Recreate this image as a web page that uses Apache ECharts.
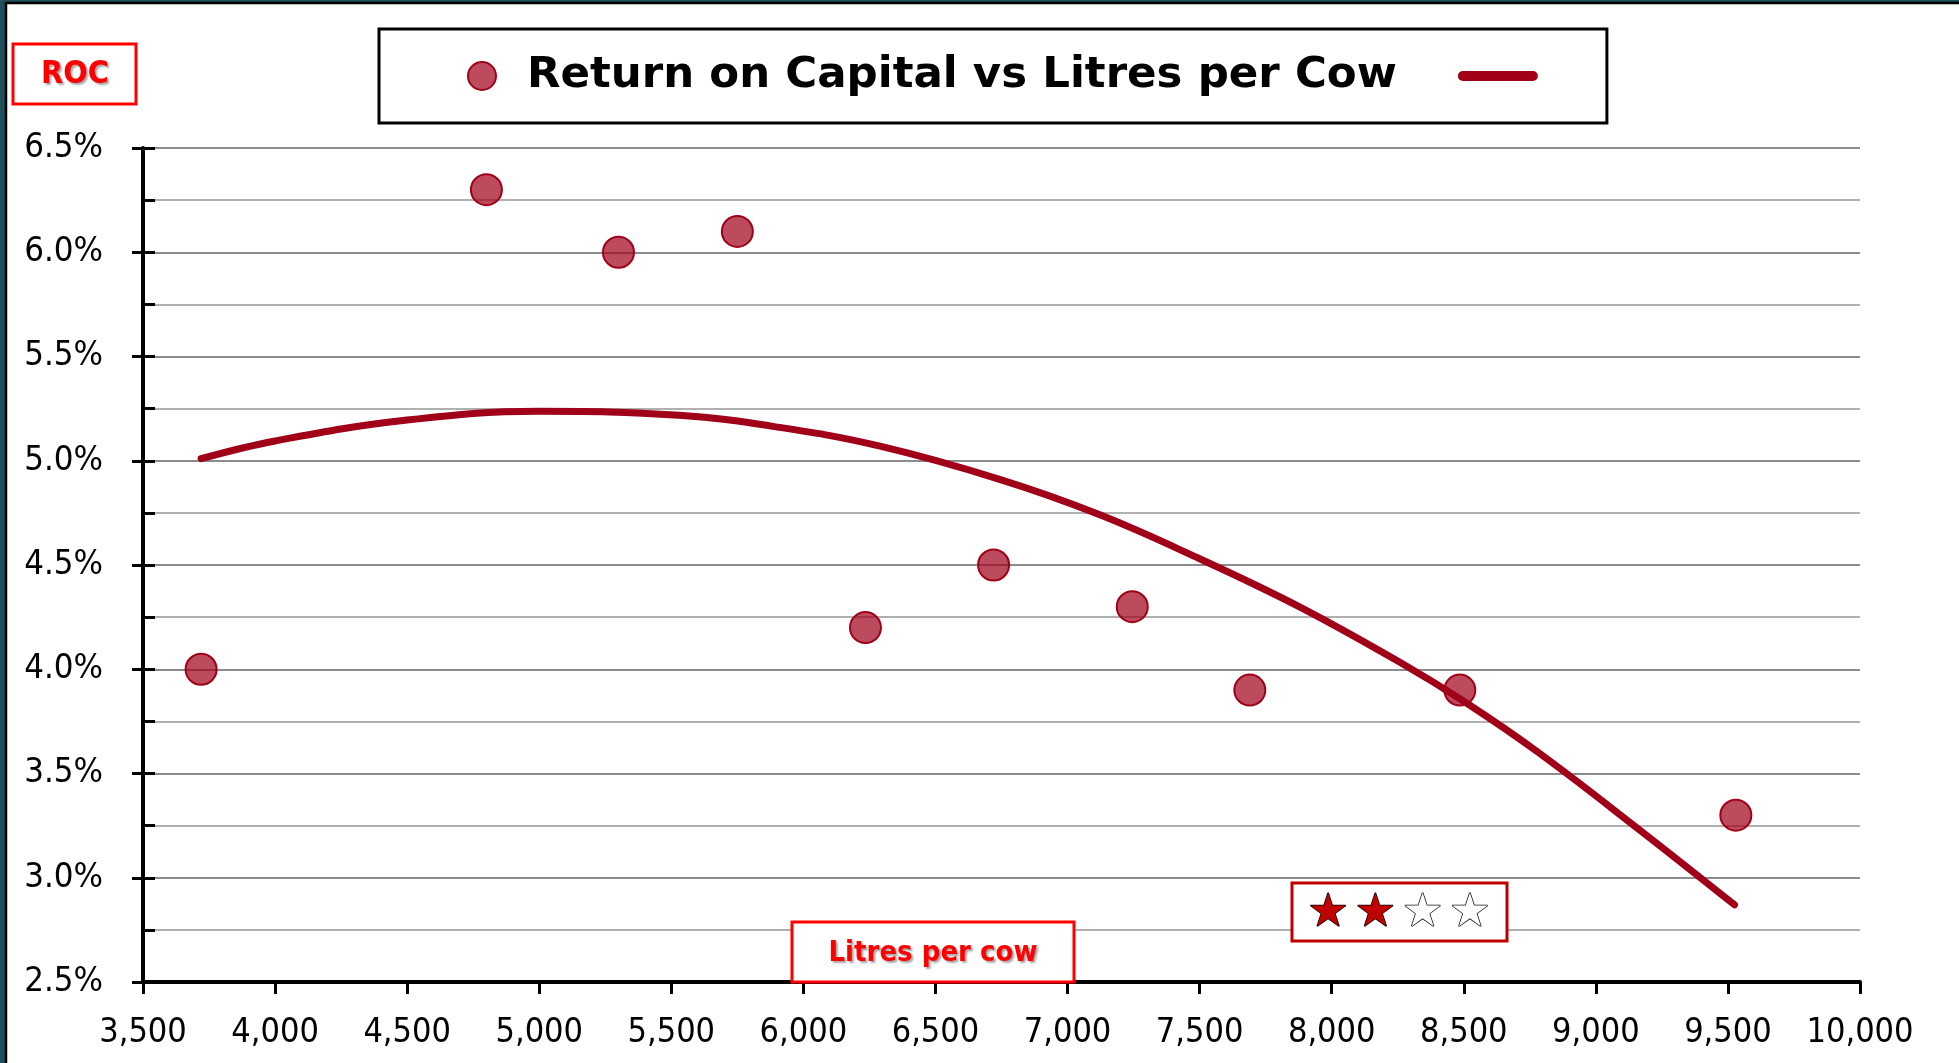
<!DOCTYPE html>
<html>
<head>
<meta charset="utf-8">
<title>Return on Capital vs Litres per Cow</title>
<script src="https://cdn.jsdelivr.net/npm/echarts@6/dist/echarts.min.js"></script>
<style>
  html, body { margin: 0; padding: 0; }
  #chart { width: 1959px; height: 1063px; }
</style>
</head>
<body>
<div id="chart"></div>
<script>
// litres per cow (x) and return on capital in % (y) for each farm
var litres = [3720, 4800, 5300, 5750, 6235, 6720, 7245, 7690, 8485, 9530];
var roc = [4.0, 6.3, 6.0, 6.1, 4.2, 4.5, 4.3, 3.9, 3.9, 3.3];

// trend line
var trendLitres = [3720, 4000, 4500, 5000, 5530, 5910, 6290, 6740, 7120, 7500, 7880, 8260, 8510, 8780, 9150, 9525];
var trendRoc = [5.01, 5.095, 5.195, 5.237, 5.218, 5.16, 5.07, 4.912, 4.742, 4.53, 4.298, 4.032, 3.838, 3.603, 3.245, 2.87];

var seriesName = 'Return on Capital vs Litres per Cow';
var stars = '{f|★}{f|★}{e|★}{e|★}';

var fontLabel = '"DejaVu Sans Condensed", "DejaVu Sans", sans-serif';
var darkRed = '#A00018';

var pts = litres.map(function (x, i) { return [x, roc[i]]; });
var trend = trendLitres.map(function (x, i) { return [x, trendRoc[i]]; });

var chart = echarts.init(document.getElementById('chart'));

chart.setOption({
    animation: false,
    backgroundColor: '#1E4F5C',
    grid: { left: 143, right: 99, top: 148, bottom: 81 },
    legend: {
        left: 379,
        top: 29,
        orient: 'horizontal',
        padding: [22, 64, 22, 88],
        borderColor: '#000',
        borderWidth: 3,
        backgroundColor: '#fff',
        itemWidth: 80,
        itemHeight: 28,
        itemGap: 61,
        data: [
            { name: seriesName, icon: 'circle' },
            { name: 'Trend', icon: 'path://M5,0 L75,0 A5,5 0 0 1 75,10 L5,10 A5,5 0 0 1 5,0 Z' }
        ],
        formatter: function (name) { return name === 'Trend' ? '' : name; },
        textStyle: {
            fontFamily: '"DejaVu Sans", sans-serif',
            fontWeight: 'bold',
            fontSize: 43.5,
            lineHeight: 50,
            color: '#000'
        }
    },
    xAxis: {
        type: 'value',
        min: 3500,
        max: 10000,
        interval: 500,
        axisLine: { show: true, lineStyle: { color: '#000', width: 4 } },
        axisTick: { show: true, length: 12, lineStyle: { color: '#000', width: 3 } },
        splitLine: { show: false },
        axisLabel: {
            margin: 34,
            color: '#000',
            fontFamily: fontLabel,
            fontSize: 34,
            formatter: function (v) { return v.toLocaleString('en-US'); }
        }
    },
    yAxis: [
        {
            type: 'value',
            position: 'left',
            min: 2.5,
            max: 6.5,
            interval: 0.5,
            axisLine: { show: true, lineStyle: { color: '#000', width: 4 } },
            axisTick: { show: true, length: 11, lineStyle: { color: '#000', width: 3 } },
            splitLine: { show: true, lineStyle: { color: '#8C8C8C', width: 2 } },
            minorTick: { show: false, splitNumber: 2 },
            minorSplitLine: { show: true, lineStyle: { color: '#B0B0B0', width: 2 } },
            axisLabel: {
                margin: 40,
                color: '#000',
                fontFamily: fontLabel,
                fontSize: 34.5,
                formatter: function (v) { return v.toFixed(1) + '%'; }
            }
        },
        {
            // only the inner ticks every 0.25%
            type: 'value',
            position: 'left',
            offset: 0,
            min: 2.5,
            max: 6.5,
            interval: 0.25,
            axisLine: { show: false },
            axisTick: { show: true, inside: true, length: 12, lineStyle: { color: '#000', width: 3 } },
            splitLine: { show: false },
            axisLabel: { show: false }
        }
    ],
    series: [
        {
            name: 'Trend',
            type: 'line',
            data: trend,
            smooth: 0.4,
            symbol: 'none',
            color: darkRed,
            lineStyle: { color: darkRed, width: 7, cap: 'round' },
            z: 2
        },
        {
            name: seriesName,
            type: 'scatter',
            data: pts,
            symbolSize: 31,
            itemStyle: { color: 'rgba(160,0,24,0.7)', borderColor: darkRed, borderWidth: 2, opacity: 1 },
            z: 3
        }
    ],
    graphic: [
        {
            type: 'rect', z: -100, silent: true,
            shape: { x: 6, y: 3, width: 1960, height: 1070 },
            style: { fill: '#fff', stroke: '#000', lineWidth: 2.5 }
        },
        {
            type: 'rect', z: 100,
            shape: { x: 13, y: 44, width: 123, height: 60 },
            style: { fill: '#fff', stroke: '#FF0000', lineWidth: 3 }
        },
        {
            type: 'text', z: 101, x: 75, y: 75,
            style: {
                text: 'ROC', fill: '#FF0000', fontFamily: fontLabel, fontWeight: 'bold', fontSize: 32,
                align: 'center', verticalAlign: 'middle',
                textShadowColor: 'rgba(0,0,0,0.35)', textShadowBlur: 2, textShadowOffsetX: 2, textShadowOffsetY: 2
            }
        },
        {
            type: 'rect', z: 100,
            shape: { x: 792, y: 922, width: 282, height: 60 },
            style: { fill: '#fff', stroke: '#FF0000', lineWidth: 3 }
        },
        {
            type: 'text', z: 101, x: 933, y: 953,
            style: {
                text: 'Litres per cow', fill: '#FF0000', fontFamily: fontLabel, fontWeight: 'bold', fontSize: 29,
                align: 'center', verticalAlign: 'middle',
                textShadowColor: 'rgba(0,0,0,0.35)', textShadowBlur: 2, textShadowOffsetX: 2, textShadowOffsetY: 2
            }
        },
        {
            type: 'rect', z: 100,
            shape: { x: 1292, y: 883, width: 215, height: 58 },
            style: { fill: '#fff', stroke: '#C00000', lineWidth: 3 }
        },
        {
            type: 'text', z: 101, x: 1399, y: 914,
            style: {
                text: stars, align: 'center', verticalAlign: 'middle',
                fontFamily: '"DejaVu Sans", sans-serif', fontSize: 46,
                rich: {
                    f: { fill: '#C00000', stroke: '#000', lineWidth: 1.5, fontSize: 46, padding: [0, 3], fontFamily: '"DejaVu Sans", sans-serif' },
                    e: { fill: '#fff', stroke: '#000', lineWidth: 1.5, fontSize: 46, padding: [0, 3], fontFamily: '"DejaVu Sans", sans-serif' }
                }
            }
        }
    ]
});
</script>
</body>
</html>
